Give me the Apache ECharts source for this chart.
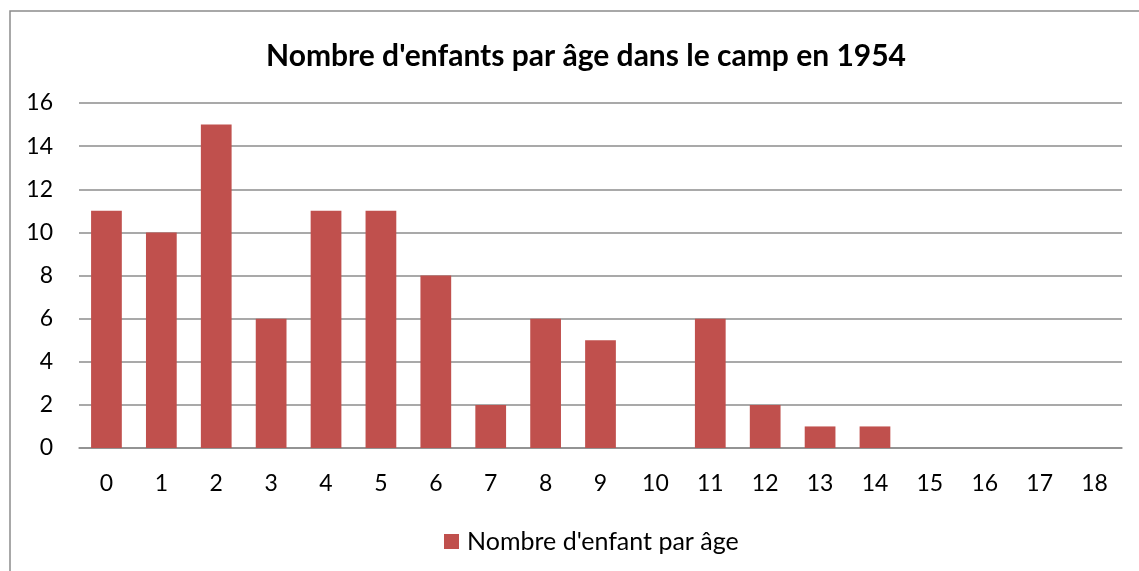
<!DOCTYPE html>
<html>
<head>
<meta charset="utf-8">
<script src="https://cdn.jsdelivr.net/npm/echarts@6/dist/echarts.min.js"></script>
<style>
html,body{margin:0;padding:0;background:#fff;}
#main{width:1139px;height:571px;}
</style>
</head>
<body>
<div id="main"></div>
<script>
// ages and number of children
var ages = ['0','1','2','3','4','5','6','7','8','9','10','11','12','13','14','15','16','17','18'];
var enfants = [11,10,15,6,11,11,8,2,6,5,0,6,2,1,1,0,0,0,0];
var serieName = "Nombre d'enfant par âge";
var titre = "Nombre d'enfants par âge dans le camp en 1954";

var myChart = echarts.init(document.getElementById('main'));
var fonte = 'Lato, "Open Sans", sans-serif';
option = {
    textStyle: {fontFamily: fonte},
    graphic: [{
        type: 'rect',
        shape: {x: 10, y: 11, width: 1160, height: 600},
        style: {fill: 'none', stroke: '#8c8c8c', lineWidth: 1.5},
        silent: true
    }],
    title: {
        text: titre,
        left: 581,
        textAlign: 'center',
        top: 36,
        textStyle: {fontSize: 30, fontWeight: 'bold', color: '#000', fontFamily: fonte}
    },
    legend: {
        top: 524,
        left: 439,
        itemWidth: 15,
        itemHeight: 15,
        icon: 'rect',
        itemGap: 5,
        textStyle: {fontSize: 25, color: '#000', fontFamily: fonte, padding: [0, 0, 0, 3]},
        data: [serieName]
    },
    grid: {
        left: 79,
        right: 17,
        top: 103,
        bottom: 123,
        containLabel: false
    },
    xAxis: {
        type: 'category',
        data: ages,
        axisTick: {show: false},
        axisLine: {lineStyle: {color: '#8c8c8c', width: 1.5}},
        axisLabel: {fontSize: 23, color: '#000', margin: 24, fontFamily: fonte}
    },
    yAxis: {
        type: 'value',
        min: 0,
        max: 16,
        interval: 2,
        axisLine: {show: false},
        axisTick: {show: false},
        splitLine: {lineStyle: {color: '#8c8c8c', width: 1.5}},
        axisLabel: {fontSize: 23, color: '#000', margin: 26, fontFamily: fonte}
    },
    series: [{
        name: serieName,
        type: 'bar',
        data: enfants,
        barWidth: '56%',
        itemStyle: {color: '#C0504D'}
    }]
};
myChart.setOption(option);
</script>
</body>
</html>
